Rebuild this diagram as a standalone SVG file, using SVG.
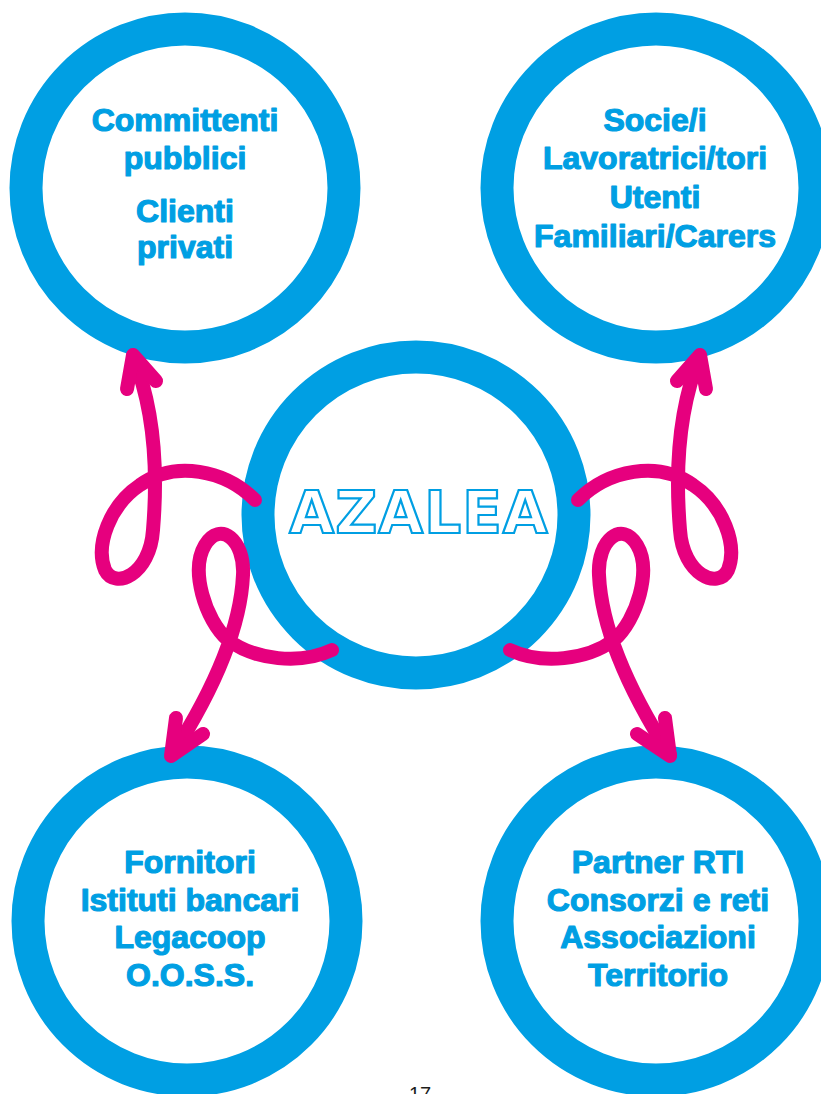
<svg xmlns="http://www.w3.org/2000/svg" width="821" height="1094" viewBox="0 0 821 1094">
<style>
.ring{fill:#ffffff;stroke:#009FE3;stroke-width:33}
.lbl{font-family:"Liberation Sans",Arial,sans-serif;font-weight:bold;font-size:32px;fill:#009FE3;stroke:#009FE3;stroke-width:1.2;stroke-linejoin:round;text-anchor:middle}
.title{font-family:"DejaVu Sans",sans-serif;font-weight:bold;font-size:58px;fill:#ffffff;stroke:#009FE3;stroke-width:2.2;text-anchor:middle;letter-spacing:1px}
.arr{fill:none;stroke:#E6007E;stroke-width:14;stroke-linecap:round;stroke-linejoin:round}
.pg{font-family:"Liberation Sans",Arial,sans-serif;font-size:20px;fill:#1d1d1b;text-anchor:middle}
</style>
<rect width="821" height="1094" fill="#ffffff"/>
<g id="node-top-left">
<circle class="ring" cx="185" cy="188" r="159"/>
<text class="lbl" x="185" y="131">Committenti</text>
<text class="lbl" x="185" y="169">pubblici</text>
<text class="lbl" x="185" y="222">Clienti</text>
<text class="lbl" x="185" y="258">privati</text>
</g>
<g id="node-top-right">
<circle class="ring" cx="656" cy="188" r="159"/>
<text class="lbl" x="655" y="131">Socie/i</text>
<text class="lbl" x="655" y="169">Lavoratrici/tori</text>
<text class="lbl" x="655" y="208">Utenti</text>
<text class="lbl" x="655" y="247">Familiari/Carers</text>
</g>
<g id="node-center">
<circle class="ring" cx="416" cy="515" r="158"/>
<text class="title" x="419" y="533">AZALEA</text>
</g>
<g id="node-bottom-left">
<circle class="ring" cx="187" cy="921" r="159"/>
<text class="lbl" x="190" y="873">Fornitori</text>
<text class="lbl" x="190" y="911">Istituti bancari</text>
<text class="lbl" x="190" y="948">Legacoop</text>
<text class="lbl" x="190" y="986">O.O.S.S.</text>
</g>
<g id="node-bottom-right">
<circle class="ring" cx="656" cy="921" r="159"/>
<text class="lbl" x="658" y="873">Partner RTI</text>
<text class="lbl" x="658" y="911">Consorzi e reti</text>
<text class="lbl" x="658" y="948">Associazioni</text>
<text class="lbl" x="658" y="986">Territorio</text>
</g>
<g id="connectors">
<path class="arr" d="M255,500 C225,470 175,460 140,485 C110,505 95,545 105,570 C115,590 150,575 153,530 C158,470 155,410 133,356"/>
<path class="arr" d="M127,389 L133,355 L156,381"/>
<path class="arr" d="M578,500 C608,470 658,460 693,485 C723,505 738,545 728,570 C718,590 683,575 680,530 C675,470 678,410 700,356"/>
<path class="arr" d="M706,389 L700,355 L677,381"/>
<path class="arr" d="M332,650 C300,665 255,660 228,640 C205,620 190,570 205,545 C220,520 245,540 243,575 C241,620 220,680 172,755"/>
<path class="arr" d="M176,718 L171,756 L203,734"/>
<path class="arr" d="M510,650 C542,665 587,660 614,640 C637,620 652,570 637,545 C622,520 597,540 599,575 C601,620 622,680 670,755"/>
<path class="arr" d="M637,734 L670,756 L665,718"/>
</g>
<text class="pg" x="420" y="1101">17</text>
</svg>
